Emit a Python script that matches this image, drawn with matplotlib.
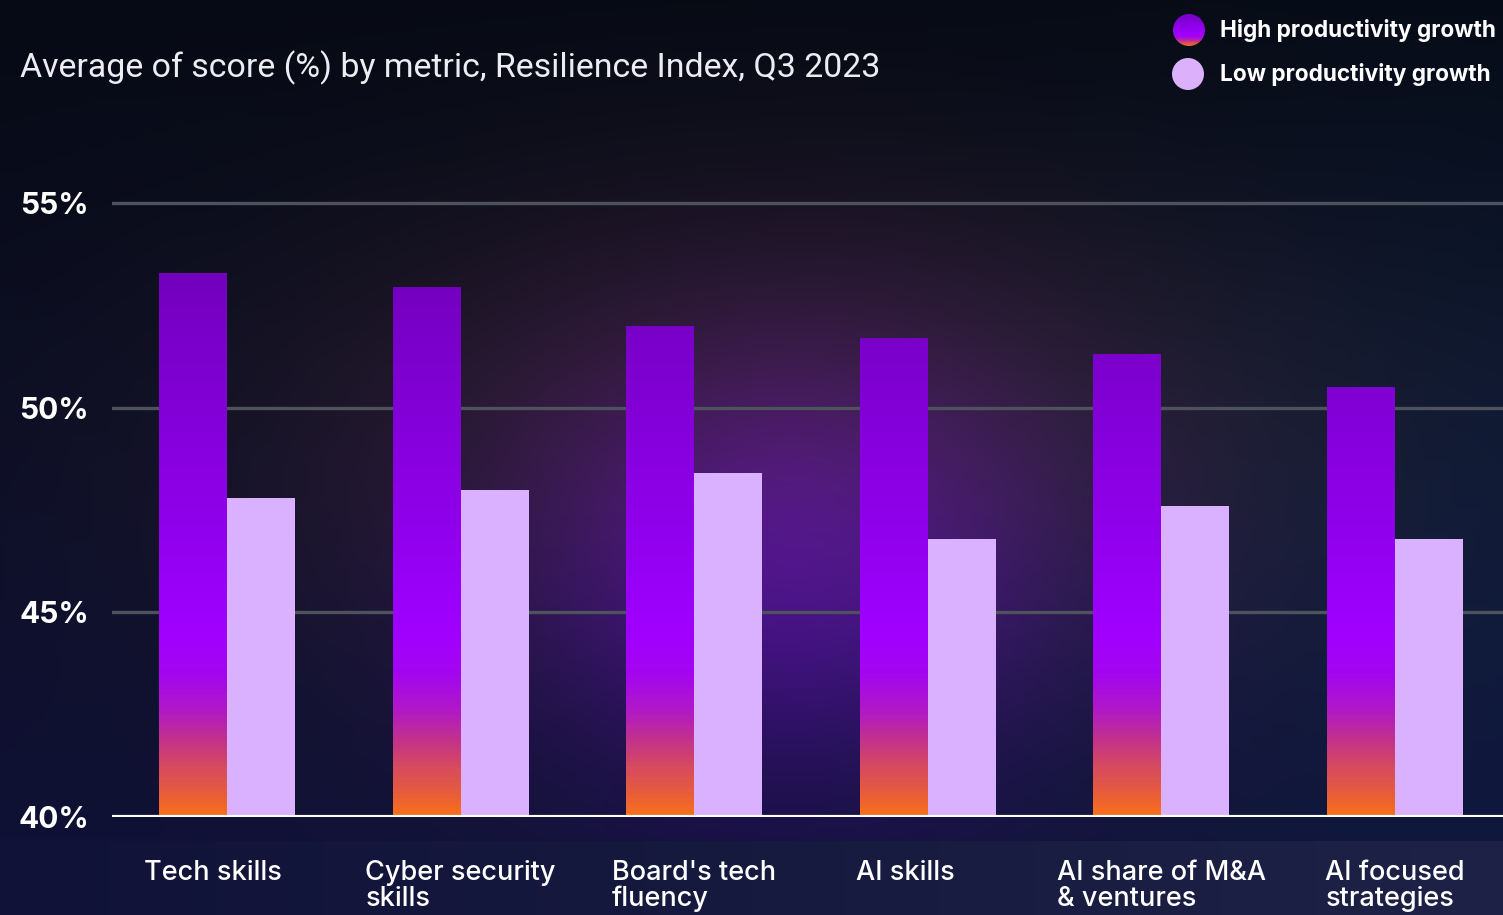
import numpy as np
import matplotlib.pyplot as plt
from matplotlib.colors import LinearSegmentedColormap, Normalize
from matplotlib.patches import Circle

# Resilience Index, Q3 2023 - average score (%) per metric
metrics = ["Tech skills", "Cyber security\nskills", "Board's tech\nfluency",
           "AI skills", "AI share of M&A\n& ventures", "AI focused\nstrategies"]
high_growth = [53.3, 52.95, 52.0, 51.7, 51.3, 50.5]
low_growth = [47.8, 48.0, 48.4, 46.8, 47.6, 46.8]
yticks = [40, 45, 50, 55]
ytick_labels = ["40%", "45%", "50%", "55%"]
series_names = ["High productivity growth", "Low productivity growth"]
title = "Average of score (%) by metric, Resilience Index, Q3 2023"

W, H = 1503, 915
LOW_COLOR = "#dab1ff"

# violet -> magenta -> orange ramp used on the high-growth bars
ramp = LinearSegmentedColormap.from_list("ramp", [
    (0.000, "#f8701a"),
    (0.033, "#e85e38"),
    (0.080, "#d64a60"),
    (0.127, "#c03090"),
    (0.173, "#b018c8"),
    (0.233, "#a405f0"),
    (0.300, "#a000ff"),
    (0.400, "#9600f4"),
    (0.667, "#8200d6"),
    (0.867, "#7400bf"),
    (1.000, "#6c00b4"),
])
ramp_norm = Normalize(40, 55)


def background():
    yy, xx = np.mgrid[0:H, 0:W].astype(float)
    t = (yy / H)[..., None]
    top = np.array([6, 10, 20])
    bottom = np.array([16, 18, 56])
    img = top * (1 - t) + bottom * t

    def glow(cx, cy, sx, sy, col):
        g = np.exp(-0.5 * (((xx - cx) / sx) ** 2 + ((yy - cy) / sy) ** 2))
        return g[..., None] * np.array(col)

    img = img + glow(1503, 520, 320, 300, (0, 10, 14))
    img = img + glow(800, 450, 360, 180, (40, 20, 6))
    img = img + glow(790, 560, 190, 150, (36, -10, 90))

    # flat band under the category axis
    band = yy[:, 0] >= 841
    frac = (xx[band] / W)[..., None]
    img[band] = np.array([16, 18, 56]) * (1 - frac) + np.array([30, 34, 70]) * frac
    return np.clip(img, 0, 255).astype(np.uint8)


fig = plt.figure(figsize=(W / 100, H / 100), dpi=100)

bg = fig.add_axes([0, 0, 1, 1])
bg.imshow(background(), extent=[0, W, H, 0], aspect="auto", interpolation="bilinear")
bg.set_axis_off()
bg.set_zorder(0)

# plot area: 40% sits at y=817px, 55% at y=203px
ax = fig.add_axes([112 / W, (H - 817) / H, (W - 112) / W, 655 / H])
ax.set_zorder(1)
ax.patch.set_visible(False)

x = np.arange(len(metrics))
width = 0.291

hi_bars = ax.bar(x - width / 2, [v - 40 for v in high_growth], width, bottom=40,
                 color="none", linewidth=0, zorder=3)
ax.bar(x + width / 2, [v - 40 for v in low_growth], width, bottom=40,
       color=LOW_COLOR, linewidth=0, zorder=3)

grad = np.linspace(40, 56, 400).reshape(-1, 1)
for bar in hi_bars:
    x0 = bar.get_x()
    im = ax.imshow(grad, cmap=ramp, norm=ramp_norm, origin="lower", aspect="auto",
                   extent=[x0, x0 + bar.get_width(), 40, 56], zorder=3)
    im.set_clip_path(bar)

ax.set_xlim(-115 / 233.6, (W - 227) / 233.6)
ax.set_ylim(40, 56)

for v in yticks[1:]:
    ax.axhline(v, color="#4d525c", lw=2.4, zorder=1)
ax.axhline(40, color="white", lw=3, zorder=4)

for s in ax.spines.values():
    s.set_visible(False)
ax.set_xticks([])
ax.set_yticks(yticks)
ax.set_yticklabels(ytick_labels)
ax.tick_params(axis="y", length=0, pad=16.5, labelcolor="white", labelsize=21.5)
for lbl in ax.get_yticklabels():
    lbl.set_fontfamily(["Inter", "DejaVu Sans"])
    lbl.set_fontweight("bold")

# single-line labels sit a little left of their group centre
nudge_px = [-14, 0, 0, -22, 0, 0]
for xi, name, dx in zip(x, metrics, nudge_px):
    ax.text(xi + dx / 233.6, -0.066, name, transform=ax.get_xaxis_transform(),
            ha="center", va="top", multialignment="left", color="white",
            fontsize=19.5, fontweight="medium", family=["Inter", "DejaVu Sans"],
            linespacing=0.98, clip_on=False)

fig.text(20 / W, 1 - 68 / H, title, color="#ececf2", fontsize=24.4,
         fontweight="normal", family=["Roboto", "DejaVu Sans"], va="center", ha="left")

# legend drawn in pixel space
ov = fig.add_axes([0, 0, 1, 1])
ov.set_zorder(5)
ov.set_xlim(0, W)
ov.set_ylim(H, 0)
ov.set_axis_off()
ov.patch.set_visible(False)

leg_rows = [30, 74]
leg_grad = np.linspace(40, 52, 100).reshape(-1, 1)
im = ov.imshow(leg_grad, cmap=ramp, norm=ramp_norm,
               extent=[1173, 1205, leg_rows[0] + 16, leg_rows[0] - 16],
               origin="lower", aspect="auto", zorder=6)
im.set_clip_path(Circle((1189, leg_rows[0]), 16, transform=ov.transData))
ov.add_patch(Circle((1188, leg_rows[1]), 16, facecolor="#dcb0fa", edgecolor="none"))

for yy, name in zip(leg_rows, series_names):
    ov.text(1220, yy, name, color="white", fontsize=16.3, fontweight="bold",
            family=["Inter", "DejaVu Sans"], va="center", ha="left")

fig.savefig("out.png", dpi=100)
